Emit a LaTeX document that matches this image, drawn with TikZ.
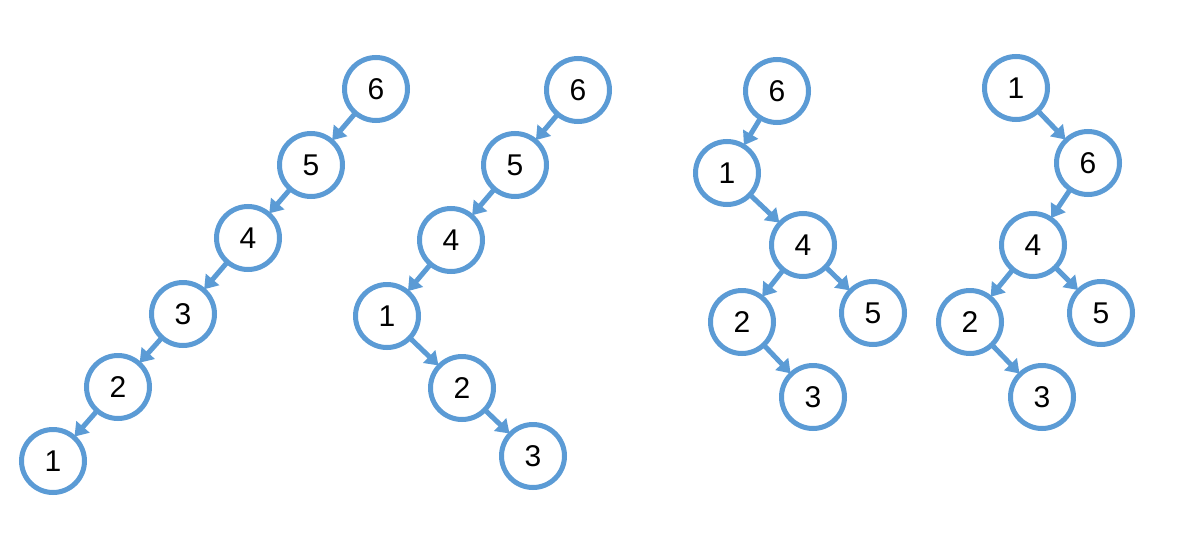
\documentclass[tikz,border=0pt]{standalone}
\usepackage{fontspec}
\setmainfont{Liberation Sans}
\usetikzlibrary{arrows.meta}
\definecolor{treeblue}{HTML}{5B9BD5}
\begin{document}
\begin{tikzpicture}[x=1pt,y=-1pt,
  tn/.style={circle,draw=treeblue,line width=5pt,minimum size=63pt,inner sep=0pt,fill=white,font=\fontsize{30}{32}\selectfont},
  edge/.style={draw=treeblue,line width=5pt,-{Triangle[width=17pt,length=13pt]},shorten >=-1.5pt,shorten <=-1pt}]
\useasboundingbox (0,0) rectangle (1186,546);
% tree 1
\node[tn] (a6) at (376,89) {6};
\node[tn] (a5) at (311,165) {5};
\node[tn] (a4) at (248,238) {4};
\node[tn] (a3) at (183,314) {3};
\node[tn] (a2) at (118,387) {2};
\node[tn] (a1) at (53,461) {1};
\draw[edge] (a6) -- (a5);
\draw[edge] (a5) -- (a4);
\draw[edge] (a4) -- (a3);
\draw[edge] (a3) -- (a2);
\draw[edge] (a2) -- (a1);
% tree 2
\node[tn] (b6) at (578,90) {6};
\node[tn] (b5) at (515,165) {5};
\node[tn] (b4) at (451,240) {4};
\node[tn] (b1) at (387,316) {1};
\node[tn] (b2) at (462,388) {2};
\node[tn] (b3) at (533,456) {3};
\draw[edge] (b6) -- (b5);
\draw[edge] (b5) -- (b4);
\draw[edge] (b4) -- (b1);
\draw[edge] (b1) -- (b2);
\draw[edge] (b2) -- (b3);
% tree 3
\node[tn] (c6) at (777,91) {6};
\node[tn] (c1) at (727,173) {1};
\node[tn] (c4) at (803,245) {4};
\node[tn] (c2) at (742,322) {2};
\node[tn] (c5) at (873,313) {5};
\node[tn] (c3) at (813,397) {3};
\draw[edge] (c6) -- (c1);
\draw[edge] (c1) -- (c4);
\draw[edge] (c4) -- (c2);
\draw[edge] (c4) -- (c5);
\draw[edge] (c2) -- (c3);
% tree 4
\node[tn] (d1) at (1016,88) {1};
\node[tn] (d6) at (1088,163) {6};
\node[tn] (d4) at (1033,245) {4};
\node[tn] (d2) at (970,322) {2};
\node[tn] (d5) at (1101,313) {5};
\node[tn] (d3) at (1042,397) {3};
\draw[edge] (d1) -- (d6);
\draw[edge] (d6) -- (d4);
\draw[edge] (d4) -- (d2);
\draw[edge] (d4) -- (d5);
\draw[edge] (d2) -- (d3);
\end{tikzpicture}
\end{document}
